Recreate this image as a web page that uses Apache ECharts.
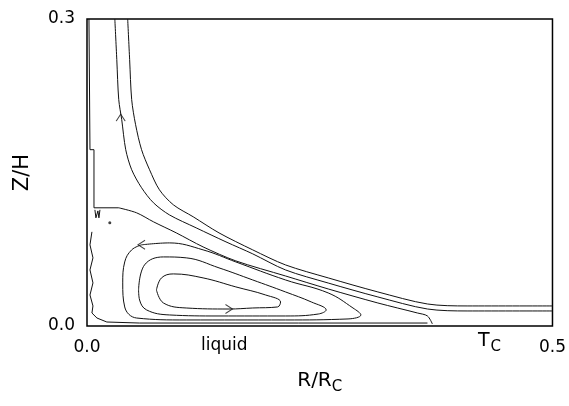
<!DOCTYPE html>
<html>
<head>
<meta charset="utf-8">
<script src="https://cdn.jsdelivr.net/npm/echarts@6/dist/echarts.min.js"></script>
<style>
  html, body { margin: 0; padding: 0; background: #fff; }
  #chart { width: 569px; height: 406px; }
</style>
</head>
<body>
<div id="chart"></div>
<script>
// streamlines, [R/Rc, Z/H]
const lineB = [
  [0.0437, 0.300], [0.0458, 0.2604], [0.0480, 0.2212], [0.0522, 0.1967],
  [0.0586, 0.1723], [0.0672, 0.1527], [0.0778, 0.1331], [0.0928, 0.1184],
  [0.1141, 0.1067], [0.1418, 0.0910], [0.1780, 0.0744], [0.2132, 0.0597],
  [0.2591, 0.0470], [0.3124, 0.0333], [0.3657, 0.0215], [0.4083, 0.0196],
  [0.5, 0.0196]
]
const lineA = [
  [0.0299, 0.300], [0.0320, 0.2604], [0.0341, 0.2212], [0.0373, 0.2016],
  [0.0416, 0.1723], [0.0480, 0.1527], [0.0586, 0.1351], [0.0714, 0.1204],
  [0.0885, 0.1086], [0.1173, 0.0959], [0.1493, 0.0822], [0.1780, 0.0705],
  [0.2132, 0.0548], [0.2591, 0.0420], [0.3124, 0.0284], [0.3657, 0.0166],
  [0.4083, 0.0147], [0.5, 0.0147]
]
const wallLine = [
  [0.0021, 0.300], [0.0032, 0.1723], [0.0075, 0.1723], [0.0075, 0.1155], [0.0341, 0.1155]
]
const lineC = [
  [0.0341, 0.1155], [0.0533, 0.1106], [0.0714, 0.1018], [0.0959, 0.0910],
  [0.1247, 0.0773], [0.1599, 0.0636], [0.2132, 0.0489], [0.2591, 0.0362],
  [0.3124, 0.0225], [0.3550, 0.0127], [0.3657, 0.0098], [0.3710, 0.0020]
]
const wavyLine = [
  [0.0053, 0.0920], [0.0032, 0.0793], [0.0064, 0.0666], [0.0032, 0.0548],
  [0.0064, 0.0421], [0.0032, 0.0303], [0.0064, 0.0196], [0.0053, 0.0127],
  [0.0107, 0.0078], [0.0213, 0.0039], [0.0565, 0.0029], [0.2271, 0.0029],
  [0.3657, 0.0029]
]
const loopInner = [
  [0.0746, 0.0352], [0.0800, 0.0470], [0.0928, 0.0509], [0.1247, 0.0470],
  [0.1599, 0.0382], [0.1919, 0.0303], [0.2079, 0.0235], [0.2047, 0.0186],
  [0.1780, 0.0176], [0.1525, 0.0166], [0.1066, 0.0176], [0.0821, 0.0225],
  [0.0746, 0.0352]
]
const loopMiddle = [
  [0.0554, 0.0352], [0.0618, 0.0597], [0.0821, 0.0675], [0.1066, 0.0666],
  [0.1418, 0.0568], [0.1780, 0.0450], [0.2132, 0.0333], [0.2409, 0.0235],
  [0.2569, 0.0157], [0.2484, 0.0117], [0.2132, 0.0098], [0.1418, 0.0098],
  [0.0885, 0.0108], [0.0640, 0.0157], [0.0565, 0.0254], [0.0554, 0.0352]
]
const loopOuter = [
  [0.0586, 0.0793], [0.0885, 0.0812], [0.1247, 0.0744], [0.1599, 0.0626],
  [0.2132, 0.0450], [0.2591, 0.0323], [0.2857, 0.0176], [0.2942, 0.0108],
  [0.2804, 0.0069], [0.2132, 0.0059], [0.1066, 0.0059], [0.0533, 0.0078],
  [0.0405, 0.0186], [0.0384, 0.0421], [0.0405, 0.0626], [0.0480, 0.0744],
  [0.0586, 0.0793]
]
const wMark = [[0.0085, 0.1135], [0.0096, 0.1057], [0.0117, 0.1125], [0.0128, 0.1057], [0.0139, 0.1135]]
const dots = [[0.0245, 0.1008]]
// flow direction arrows: [x, y, rotation deg]
const arrows = [[0.0362, 0.2036, 90], [0.0586, 0.0793, 180], [0.1525, 0.0166, 0]]

const xTicks = [0, 0.5]
const yTicks = [0, 0.3]

const chart = echarts.init(document.getElementById('chart'))

const stream = (data, smooth) => ({
  type: 'line',
  data: data,
  smooth: smooth,
  symbol: 'none',
  silent: true,
  lineStyle: { color: '#111', width: 1 }
})

const font = '"DejaVu Sans", sans-serif'

const option = {
  backgroundColor: '#fff',
  animation: false,
  grid: {
    left: 87,
    right: 13,
    top: 19,
    bottom: 80,
    show: true,
    borderColor: '#000',
    borderWidth: 1.5
  },
  xAxis: {
    type: 'value',
    min: xTicks[0],
    max: xTicks[1],
    interval: 0.5,
    name: '{n|R/R}{s|C}',
    nameLocation: 'middle',
    nameGap: 41,
    nameTextStyle: {
      rich: {
        n: { fontFamily: font, fontSize: 20, color: '#000' },
        s: { fontFamily: font, fontSize: 15, color: '#000', padding: [13, 0, 0, 0] }
      }
    },
    axisLine: { show: false },
    axisTick: { show: false },
    splitLine: { show: false },
    axisLabel: {
      margin: 13,
      color: '#000',
      fontFamily: font,
      fontSize: 17,
      formatter: v => v.toFixed(1)
    }
  },
  yAxis: {
    type: 'value',
    min: yTicks[0],
    max: yTicks[1],
    interval: 0.3,
    name: 'Z/H',
    nameLocation: 'middle',
    nameGap: 54,
    nameTextStyle: { fontFamily: font, fontSize: 21, color: '#000' },
    axisLine: { show: false },
    axisTick: { show: false },
    splitLine: { show: false },
    axisLabel: {
      margin: 12,
      color: '#000',
      fontFamily: font,
      fontSize: 17,
      formatter: v => v.toFixed(1)
    }
  },
  graphic: [
    {
      type: 'text',
      left: 201,
      top: 337,
      style: { text: 'liquid', fontFamily: font, fontSize: 17, fill: '#000' }
    },
    {
      type: 'text',
      left: 478,
      top: 332,
      style: {
        text: '{n|T}{s|C}',
        rich: {
          n: { fontFamily: font, fontSize: 19, fill: '#000' },
          s: { fontFamily: font, fontSize: 15, fill: '#000', padding: [12, 0, 0, 1] }
        }
      }
    }
  ],
  series: [
    stream(lineB, 0.3),
    stream(lineA, 0.3),
    stream(wallLine, false),
    stream(lineC, 0.3),
    stream(wavyLine, false),
    stream(loopInner, 0.4),
    stream(loopMiddle, 0.4),
    stream(loopOuter, 0.4),
    stream(wMark, false),
    {
      type: 'scatter',
      data: dots,
      symbolSize: 3,
      silent: true,
      itemStyle: { color: '#111' }
    },
    {
      type: 'scatter',
      data: arrows.map(a => ({ value: [a[0], a[1]], symbolRotate: a[2] })),
      symbol: 'path://M0,0L8,6L0,12',
      symbolSize: [7, 9],
      silent: true,
      itemStyle: { color: 'none', borderColor: '#111', borderWidth: 1 }
    }
  ]
}

chart.setOption(option)
</script>
</body>
</html>
